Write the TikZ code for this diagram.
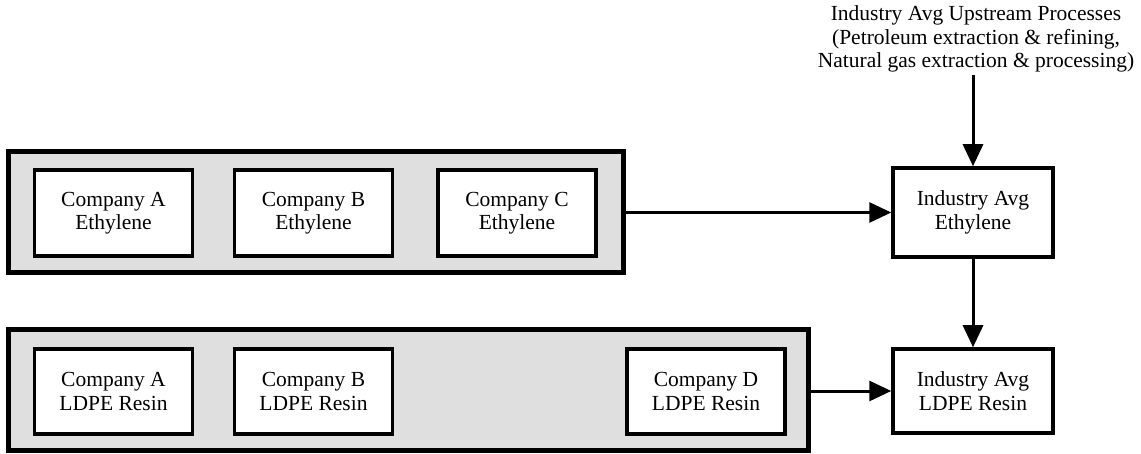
\documentclass[tikz,border=0pt]{standalone}
\usepackage{fontspec}
\setmainfont{Liberation Serif}
\usetikzlibrary{arrows.meta}
\definecolor{groupgray}{RGB}{223,223,223}
\begin{document}
\begin{tikzpicture}[x=1pt,y=-1pt,
  every node/.style={font=\fontsize{21.5}{23.5}\selectfont, align=center},
  groupbox/.style={draw=black, fill=groupgray, line width=5pt, inner sep=0pt},
  compbox/.style={draw=black, fill=white, line width=3.5pt, minimum width=158pt, minimum height=86pt, inner sep=0pt},
  avgbox/.style={draw=black, fill=white, line width=3.5pt, minimum width=160pt, inner sep=0pt},
  flow/.style={line width=3pt, -{Triangle[length=22pt,width=20pt]}}
]
\useasboundingbox (0,0) rectangle (1141,454);
% groups
\node[groupbox, minimum width=615pt, minimum height=121pt] (g1) at (315.5,212.5) {};
\node[groupbox, minimum width=800pt, minimum height=120pt] (g2) at (408,390) {};
% company boxes
\node[compbox] (aeth) at (113.5,213) {Company A\\Ethylene};
\node[compbox] (beth) at (313.5,213) {Company B\\Ethylene};
\node[compbox] (ceth) at (517,213) {Company C\\Ethylene};
\node[compbox, minimum height=85pt] (aldpe) at (113.5,391.5) {Company A\\LDPE Resin};
\node[compbox, minimum height=85pt] (bldpe) at (313.5,391.5) {Company B\\LDPE Resin};
\node[compbox, minimum height=85pt] (dldpe) at (706,391.5) {Company D\\LDPE Resin};
% industry average
\node[avgbox, minimum height=89pt] (ieth) at (973,212.5) {Industry Avg\\Ethylene};
\node[avgbox, minimum height=84pt] (ildpe) at (973,391) {Industry Avg\\LDPE Resin};
\node[inner sep=3pt] (up) at (976,39) {Industry Avg Upstream Processes\\(Petroleum extraction \& refining,\\Natural gas extraction \& processing)};
% connectors
\draw[flow] (up.south -| ieth.north) -- (ieth.north);
\draw[flow] (g1.east) -- (ieth.west);
\draw[flow] (ieth.south) -- (ildpe.north);
\draw[flow] (g2.east |- ildpe.west) -- (ildpe.west);
\end{tikzpicture}
\end{document}
